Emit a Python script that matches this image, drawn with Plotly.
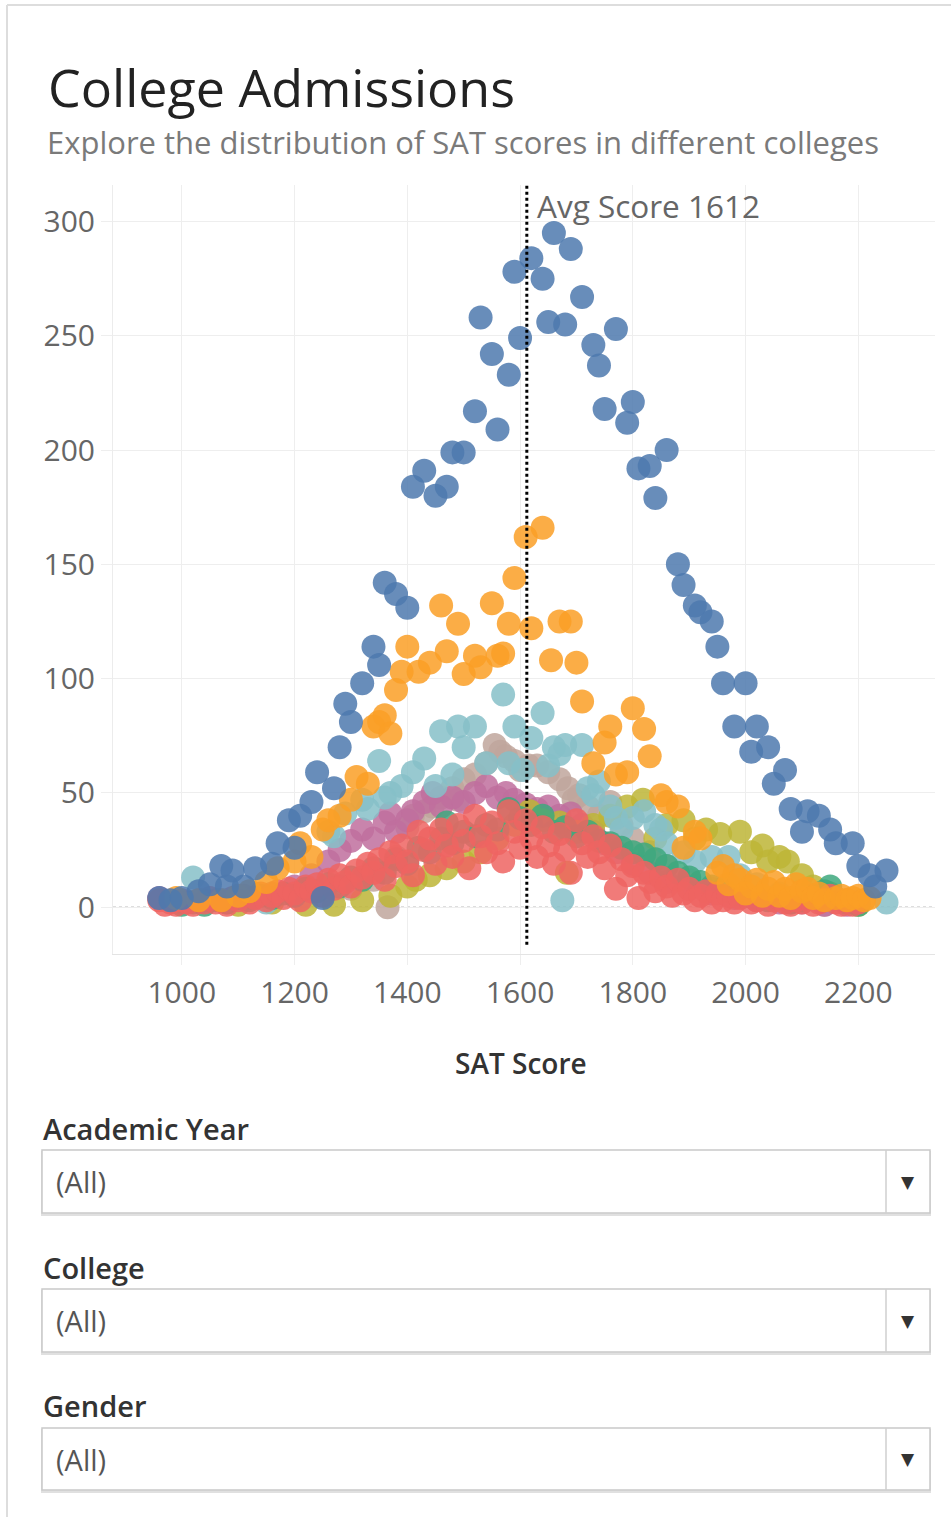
import plotly.graph_objects as go

W, H = 951, 1517
FONT = "Open Sans"

# ---- data: SAT score vs number of applicants, one list pair per college ----
college_a_x = [960, 980, 1000, 1030, 1050, 1070, 1080, 1090, 1110, 1130, 1160, 1170, 1190, 1200, 1210,
               1230, 1240, 1250, 1270, 1280, 1290, 1300, 1320, 1340, 1350, 1360, 1380, 1400, 1410, 1430,
               1450, 1470, 1480, 1500, 1520, 1530, 1550, 1560, 1580, 1590, 1600, 1620, 1640, 1650, 1660,
               1680, 1690, 1710, 1730, 1740, 1750, 1770, 1790, 1800, 1810, 1830, 1840, 1860, 1880, 1890,
               1910, 1920, 1940, 1950, 1960, 1980, 2000, 2010, 2020, 2040, 2050, 2070, 2080, 2100, 2110,
               2130, 2150, 2160, 2190, 2200, 2220, 2230, 2250]
college_a_y = [4, 3, 4, 7, 10, 18, 9, 16, 9, 17, 19, 28, 38, 26, 40,
               46, 59, 4, 52, 70, 89, 81, 98, 114, 106, 142, 137, 131, 184, 191,
               180, 184, 199, 199, 217, 258, 242, 209, 233, 278, 249, 284, 275, 256, 295,
               255, 288, 267, 246, 237, 218, 253, 212, 221, 192, 193, 179, 200, 150, 141,
               132, 129, 125, 114, 98, 79, 98, 68, 79, 70, 54, 60, 43, 33, 42,
               40, 34, 28, 28, 18, 14, 9, 16]

college_b_x = [990, 1030, 1070, 1100, 1120, 1150, 1170, 1200, 1210, 1230, 1250, 1260, 1280, 1300, 1310,
               1330, 1340, 1350, 1360, 1370, 1380, 1390, 1400, 1420, 1440, 1460, 1470, 1490, 1500, 1520,
               1530, 1550, 1560, 1570, 1580, 1590, 1610, 1620, 1640, 1655, 1670, 1690, 1700, 1710, 1730,
               1750, 1760, 1770, 1790, 1800, 1820, 1830, 1850, 1860, 1880, 1890, 1910, 1920, 1950, 1960,
               1970, 1980, 1990, 2000, 2010, 2020, 2030, 2040, 2050, 2060, 2070, 2080, 2090, 2100, 2110,
               2120, 2130, 2140, 2160, 2170, 2180, 2190, 2200, 2210, 2220]
college_b_y = [4, 3, 3, 5, 7, 11, 17, 20, 28, 22, 34, 38, 40, 47, 57,
               54, 79, 81, 84, 76, 95, 103, 114, 103, 107, 132, 112, 124, 102, 110,
               105, 133, 110, 111, 124, 144, 162, 122, 166, 108, 125, 125, 107, 90, 63,
               72, 79, 58, 59, 87, 78, 66, 49, 46, 44, 26, 33, 30, 15, 18,
               10, 14, 12, 6, 9, 12, 5, 8, 11, 5, 8, 4, 10, 7, 8,
               4, 6, 3, 4, 5, 3, 4, 5, 3, 4]

college_c_x = [1020, 1080, 1150, 1200, 1260, 1270, 1290, 1320, 1330, 1350, 1360, 1370, 1390, 1410, 1430,
               1450, 1460, 1480, 1490, 1500, 1520, 1540, 1570, 1580, 1590, 1605, 1620, 1640, 1650, 1660,
               1670, 1675, 1680, 1710, 1720, 1730, 1740, 1760, 1770, 1780, 1800, 1820, 1840, 1850, 1860,
               1890, 1910, 1940, 1970, 1990, 2020, 2060, 2100, 2150, 2200, 2250]
college_c_y = [13, 3, 2, 5, 33, 31, 41, 47, 43, 64, 48, 50, 53, 59, 65,
               53, 77, 58, 79, 70, 79, 63, 93, 63, 79, 60, 74, 85, 62, 70,
               67, 3, 71, 71, 52, 49, 55, 44, 39, 34, 39, 42, 36, 34, 28,
               24, 20, 22, 22, 14, 10, 6, 4, 3, 2, 2]

college_d_x = [1300, 1340, 1365, 1380, 1400, 1410, 1430, 1445, 1460, 1480, 1490, 1500, 1520, 1540, 1555,
               1565, 1575, 1590, 1600, 1615, 1630, 1650, 1670, 1685, 1695, 1705, 1720, 1740, 1760, 1780,
               1800, 1830, 1860, 1900, 1940, 1980, 2020, 2080, 2140]
college_d_y = [8, 12, 0, 22, 35, 40, 42, 44, 48, 52, 47, 56, 58, 63, 71,
               68, 66, 64, 60, 62, 62, 59, 56, 52, 47, 49, 44, 40, 46, 36,
               30, 24, 18, 12, 8, 5, 3, 2, 1]

college_e_x = [960, 1000, 1040, 1080, 1120, 1160, 1200, 1230, 1260, 1280, 1300, 1320, 1340, 1360, 1370,
               1380, 1400, 1410, 1430, 1445, 1460, 1480, 1500, 1520, 1540, 1560, 1575, 1590, 1610, 1630,
               1650, 1670, 1690, 1710, 1730, 1750, 1770, 1800, 1830, 1860, 1900, 1940, 1980, 2020, 2060,
               2100, 2140, 2180]
college_e_y = [4, 2, 3, 2, 4, 6, 9, 14, 20, 25, 29, 34, 30, 37, 41,
               33, 38, 42, 46, 50, 44, 48, 46, 50, 53, 48, 50, 47, 45, 43,
               44, 40, 41, 36, 33, 28, 24, 19, 15, 11, 8, 6, 4, 3, 2,
               2, 1, 1]

college_f_x = [1100, 1160, 1220, 1270, 1320, 1370, 1400, 1415, 1440, 1470, 1500, 1530, 1560, 1590, 1617,
               1640, 1670, 1683, 1700, 1730, 1760, 1790, 1818, 1840, 1860, 1890, 1910, 1930, 1955, 1990,
               2010, 2030, 2040, 2060, 2075, 2100, 2120, 2150, 2180, 2200]
college_f_y = [1, 2, 1, 1, 3, 5, 9, 12, 14, 17, 20, 24, 30, 36, 42,
               38, 37, 15, 33, 36, 40, 44, 47, 30, 36, 38, 30, 34, 32, 33,
               24, 27, 20, 22, 20, 14, 9, 6, 3, 1]

college_g_x = [1000, 1020, 1040, 1060, 1080, 1100, 1120, 1140, 1160, 1180, 1200, 1220, 1240, 1260, 1280,
               1300, 1320, 1340, 1360, 1380, 1400, 1420, 1440, 1460, 1470, 1480, 1500, 1520, 1540, 1560,
               1580, 1600, 1620, 1640, 1660, 1680, 1700, 1720, 1740, 1760, 1780, 1800, 1820, 1840, 1860,
               1880, 1900, 1920, 1940, 1960, 1980, 2000, 2020, 2040, 2060, 2080, 2100, 2120, 2140, 2150,
               2160, 2180, 2200]
college_g_y = [1, 2, 1, 3, 2, 4, 3, 5, 4, 6, 5, 8, 7, 10, 9,
               13, 12, 17, 15, 21, 19, 26, 24, 30, 37, 28, 33, 31, 36, 34,
               43, 39, 36, 40, 33, 35, 31, 33, 29, 28, 26, 24, 23, 21, 18,
               15, 13, 11, 9, 8, 6, 5, 4, 3, 4, 2, 3, 5, 7, 9,
               4, 2, 1]

college_h_x = [960, 970, 980, 990, 1000, 1010, 1020, 1030, 1040, 1050, 1060, 1070, 1080, 1090, 1100,
               1110, 1120, 1130, 1140, 1150, 1160, 1170, 1180, 1190, 1200, 1210, 1220, 1230, 1240, 1250,
               1260, 1270, 1280, 1290, 1300, 1310, 1320, 1330, 1340, 1350, 1360, 1370, 1380, 1390, 1400,
               1410, 1420, 1430, 1440, 1450, 1460, 1470, 1480, 1490, 1500, 1510, 1520, 1530, 1540, 1550,
               1560, 1570, 1580, 1590, 1600, 1610, 1620, 1630, 1640, 1650, 1660, 1670, 1680, 1690, 1700,
               1710, 1720, 1730, 1740, 1750, 1760, 1770, 1780, 1790, 1800, 1810, 1820, 1830, 1840, 1850,
               1860, 1870, 1880, 1890, 1900, 1910, 1920, 1930, 1940, 1950, 1960, 1970, 1980, 1990, 2000,
               2010, 2020, 2030, 2040, 2050, 2060, 2070, 2080, 2090, 2100, 2110, 2120, 2130, 2140, 2150,
               2160, 2170, 2180, 2190, 2200]
college_h_y = [3, 1, 2, 1, 3, 2, 1, 3, 2, 4, 2, 3, 1, 4, 3,
               5, 2, 4, 6, 3, 5, 7, 4, 8, 6, 3, 9, 7, 10, 5,
               12, 8, 14, 11, 9, 16, 13, 19, 15, 21, 12, 24, 18, 27, 20,
               14, 33, 25, 30, 19, 34, 27, 22, 36, 29, 17, 40, 31, 24, 37,
               28, 20, 42, 33, 26, 38, 30, 22, 35, 27, 19, 32, 25, 15, 38,
               28, 22, 31, 24, 17, 27, 8, 21, 14, 18, 4, 15, 11, 7, 13,
               9, 5, 12, 6, 8, 3, 5, 7, 2, 6, 3, 5, 2, 4, 6,
               2, 3, 5, 1, 3, 4, 2, 1, 3, 2, 4, 1, 2, 3, 5,
               2, 1, 3, 1, 2]

avg_score = 1612

y_tick_vals = [0, 50, 100, 150, 200, 250, 300]
x_tick_vals = [1000, 1200, 1400, 1600, 1800, 2000, 2200]

# drawing order: back to front
series = [
    ("College D", college_d_x, college_d_y, "#bfa69c"),
    ("College E", college_e_x, college_e_y, "#c06e9e"),
    ("College F", college_f_x, college_f_y, "#bdb536"),
    ("College C", college_c_x, college_c_y, "#86c0c8"),
    ("College G", college_g_x, college_g_y, "#3ea87e"),
    ("College H", college_h_x, college_h_y, "#ef6461"),
    ("College B", college_b_x, college_b_y, "#fa9f26"),
    ("College A", college_a_x, college_a_y, "#4e79ae"),
]


def px(x):
    return x / W


def py(y):
    return 1 - y / H


fig = go.Figure()
for name, xs, ys, col in series:
    fig.add_trace(go.Scatter(
        x=xs, y=ys, mode="markers", name=name,
        marker=dict(size=24, color=col, opacity=0.85, line=dict(width=0)),
        hoverinfo="skip", showlegend=False,
    ))

# reference line for the average score
fig.add_trace(go.Scatter(
    x=[avg_score, avg_score], y=[-16.5, 316], mode="lines",
    line=dict(color="black", width=3, dash="dot"),
    hoverinfo="skip", showlegend=False,
))

PLOT_L, PLOT_R, PLOT_T, PLOT_B = 113, 935, 185, 954
grid = "#eeeeee"
tick_font = dict(family=FONT, size=30, color="#666666")

fig.update_layout(
    width=W, height=H,
    margin=dict(l=0, r=0, t=0, b=0),
    paper_bgcolor="white", plot_bgcolor="white",
    xaxis=dict(
        domain=[px(PLOT_L), px(PLOT_R)], range=[878, 2336],
        tickvals=x_tick_vals, ticktext=[str(v) for v in x_tick_vals],
        showgrid=True, gridcolor=grid, gridwidth=1, zeroline=False,
        showline=True, linecolor="#e4e4e4", linewidth=1,
        ticks="outside", ticklen=10, tickcolor=grid,
        ticklabelstandoff=2, tickfont=tick_font, fixedrange=True,
    ),
    yaxis=dict(
        domain=[py(PLOT_B), py(PLOT_T)], range=[-20.5, 316],
        tickvals=y_tick_vals, ticktext=[str(v) for v in y_tick_vals],
        showgrid=True, gridcolor=grid, gridwidth=1, zeroline=False,
        showline=True, linecolor="#ececec", linewidth=1,
        ticks="outside", ticklen=11, tickcolor=grid,
        ticklabelstandoff=0, tickfont=tick_font, fixedrange=True,
    ),
)

shapes = []
# dotted zero line
shapes.append(dict(type="line", xref="x domain", yref="y", x0=0, x1=1, y0=0, y1=0,
                   line=dict(color="#bdbdbd", width=1.5, dash="dot"), layer="below"))
# dashboard frame
shapes.append(dict(type="line", xref="paper", yref="paper", x0=px(7), x1=px(7), y0=0, y1=py(5),
                   line=dict(color="#dddddd", width=2)))
shapes.append(dict(type="line", xref="paper", yref="paper", x0=px(7), x1=1, y0=py(5), y1=py(5),
                   line=dict(color="#dddddd", width=2)))

annotations = [
    dict(text="College Admissions", x=px(46), y=py(87), xanchor="left", yanchor="middle",
         font=dict(family=FONT, size=52, color="#222222")),
    dict(text="Explore the distribution of SAT scores in different colleges", x=px(45), y=py(142),
         xanchor="left", yanchor="middle", font=dict(family=FONT, size=31, color="#7a7a7a")),
    dict(text="Avg Score 1612", x=avg_score, xref="x", y=py(206), yref="paper",
         xanchor="left", xshift=8, yanchor="middle", font=dict(family=FONT, size=31.5, color="#666666")),
    dict(text="SAT Score", x=px(521), y=py(1063), xanchor="center", yanchor="middle",
         font=dict(family=FONT, size=28, color="#333333", weight=600)),
]

filters = [("Academic Year", 1128, 1150, 1213),
           ("College", 1267, 1289, 1352),
           ("Gender", 1405, 1428, 1490)]
for label, ly, top, bot in filters:
    annotations.append(dict(text=label, x=px(41), y=py(ly), xanchor="left", yanchor="middle",
                            font=dict(family=FONT, size=29, color="#333333", weight=600)))
    shapes.append(dict(type="rect", xref="paper", yref="paper", x0=px(42), x1=px(930),
                       y0=py(bot + 2), y1=py(top + 2), line=dict(color="#e0e0e0", width=2),
                       fillcolor="#e8e8e8", layer="below"))
    shapes.append(dict(type="rect", xref="paper", yref="paper", x0=px(42), x1=px(930),
                       y0=py(bot), y1=py(top), line=dict(color="#c9c9c9", width=1.5),
                       fillcolor="white", layer="below"))
    shapes.append(dict(type="line", xref="paper", yref="paper", x0=px(886), x1=px(886),
                       y0=py(bot), y1=py(top), line=dict(color="#cfcfcf", width=1.5)))
    mid = (top + bot) / 2
    annotations.append(dict(text="(All)", x=px(54), y=py(mid), xanchor="left", yanchor="middle",
                            font=dict(family=FONT, size=29, color="#555555")))
    annotations.append(dict(text="▼", x=px(908), y=py(mid), xanchor="center", yanchor="middle",
                            font=dict(family="DejaVu Sans", size=17, color="#333333")))

for a in annotations:
    a.setdefault("xref", "paper")
    a.setdefault("yref", "paper")
    a["showarrow"] = False

fig.update_layout(shapes=shapes, annotations=annotations)
fig.write_html("out.html", config={"displayModeBar": False})
